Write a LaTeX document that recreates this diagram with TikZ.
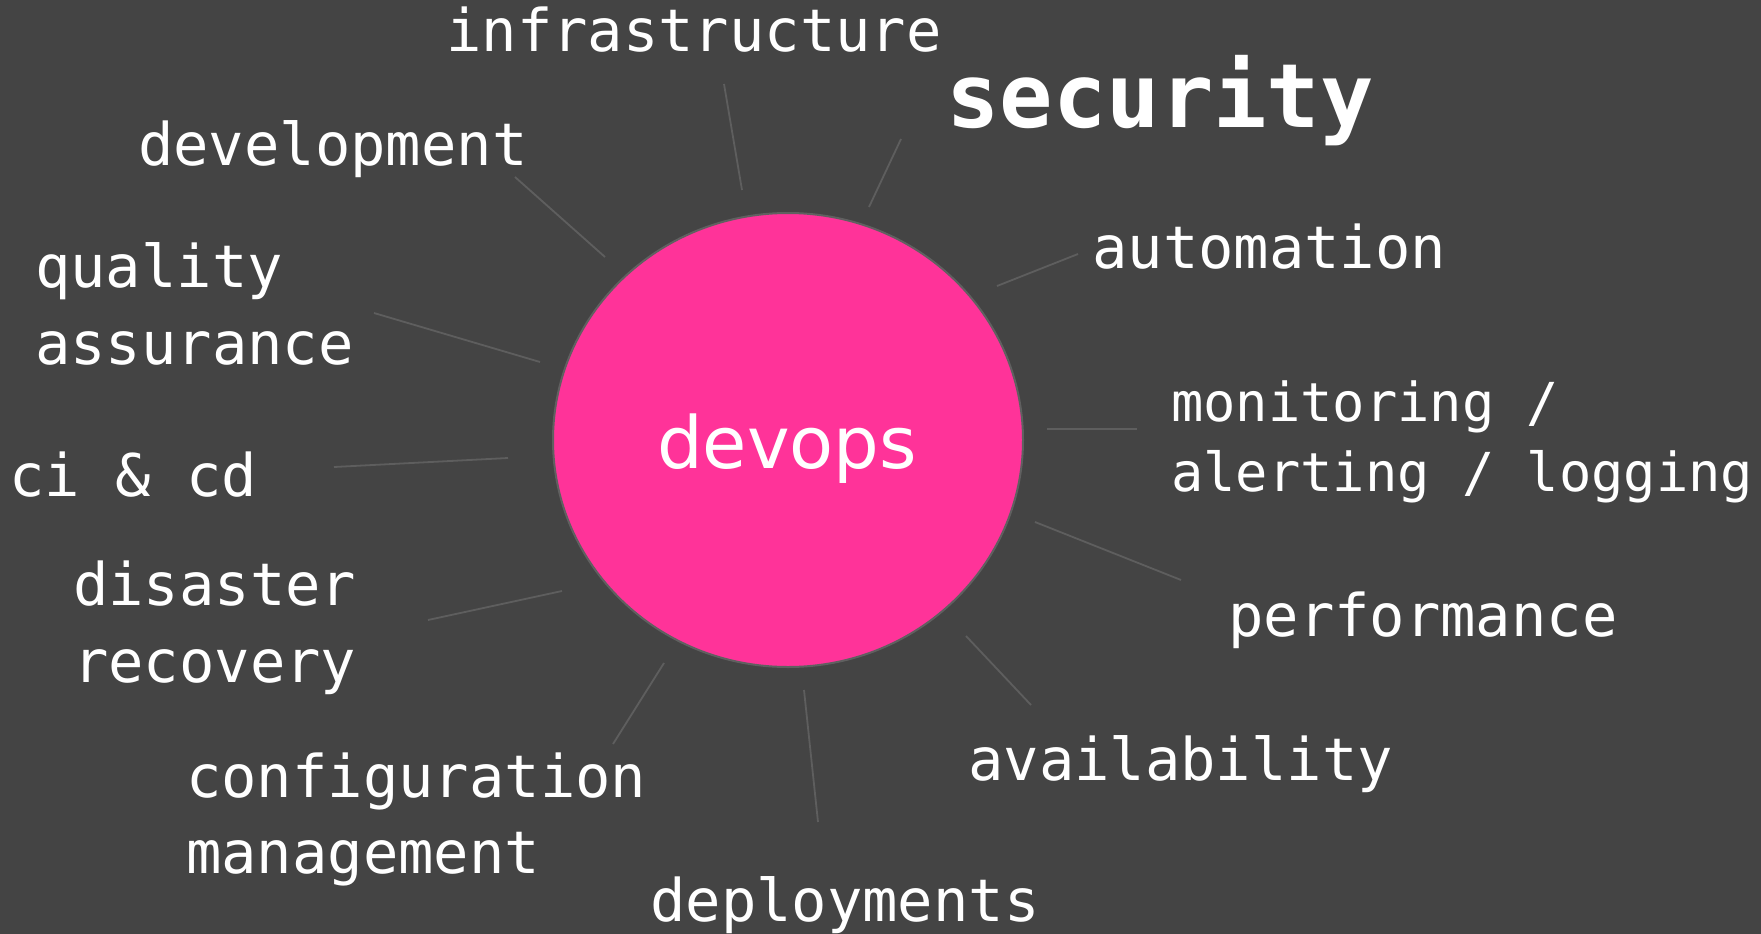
\documentclass[tikz,border=0pt]{standalone}
\usepackage{fontspec}
\newfontfamily\lblfont{DejaVu Sans Mono}
\newfontfamily\ctrfont{DejaVu Sans}
\definecolor{bgc}{HTML}{444444}
\definecolor{pinkc}{HTML}{FF3399}
\definecolor{linec}{HTML}{5E5E5E}
\definecolor{rimc}{HTML}{606060}
\tikzset{
  lbl/.style={anchor=base west,inner sep=0pt,text=white,font=\lblfont\fontsize{58.8}{77}\selectfont},
  lblsmall/.style={anchor=base west,inner sep=0pt,text=white,font=\lblfont\fontsize{53.7}{70}\selectfont},
  lblbig/.style={anchor=base west,inner sep=0pt,text=white,font=\lblfont\bfseries\fontsize{88.8}{100}\selectfont},
  spoke/.style={draw=linec,line width=1.8pt},
}
\begin{document}
\begin{tikzpicture}[x=1pt,y=-1pt]
\fill[bgc] (0,0) rectangle (1761,934);
\useasboundingbox (0,0) rectangle (1761,934);
% hub
\draw[fill=pinkc,draw=rimc,line width=2pt] (788,440) ellipse [x radius=235, y radius=227];
\node[anchor=base,inner sep=0pt,text=white,font=\ctrfont\fontsize{72}{80}\selectfont] (hub) at (787,468) {devops};
% labels
\node[lbl] (infra) at (446,52) {infrastructure};
\node[lblbig] (sec) at (946,127) {security};
\node[lbl] (dev) at (138,165) {development};
\node[lbl] (qa1) at (35,287) {quality};
\node[lbl] (qa2) at (35,364) {assurance};
\node[lbl] (ci) at (9,496) {ci \& cd};
\node[lbl] (dr1) at (73,605) {disaster};
\node[lbl] (dr2) at (73,682) {recovery};
\node[lbl] (cm1) at (186,797) {configuration};
\node[lbl] (cm2) at (186,873) {management};
\node[lbl] (dep) at (650,921) {deployments};
\node[lbl] (avail) at (968,780) {availability};
\node[lbl] (perf) at (1228,636) {performance};
\node[lblsmall] (mon1) at (1171,421) {monitoring /};
\node[lblsmall] (mon2) at (1171,491) {alerting / logging};
\node[lbl] (auto) at (1092,268) {automation};
% spoke end points
\coordinate (infraA) at (724,84);   \coordinate (infraB) at (742,190);
\coordinate (secA) at (901,139);    \coordinate (secB) at (869,207);
\coordinate (devA) at (515,177);    \coordinate (devB) at (605,257);
\coordinate (qaA) at (374,313);     \coordinate (qaB) at (540,362);
\coordinate (ciA) at (334,467);     \coordinate (ciB) at (508,458);
\coordinate (drA) at (428,620);     \coordinate (drB) at (562,591);
\coordinate (cmA) at (613,744);     \coordinate (cmB) at (664,663);
\coordinate (depA) at (818,822);    \coordinate (depB) at (804,690);
\coordinate (avA) at (1031,705);    \coordinate (avB) at (966,636);
\coordinate (perfA) at (1181,580);  \coordinate (perfB) at (1035,522);
\coordinate (monA) at (1137,429);   \coordinate (monB) at (1047,429);
\coordinate (autoA) at (1078,254);  \coordinate (autoB) at (997,286);
\foreach \s in {infra,sec,dev,qa,ci,dr,cm,dep,av,perf,mon,auto}
  \draw[spoke] (\s A) -- (\s B);
\end{tikzpicture}
\end{document}
